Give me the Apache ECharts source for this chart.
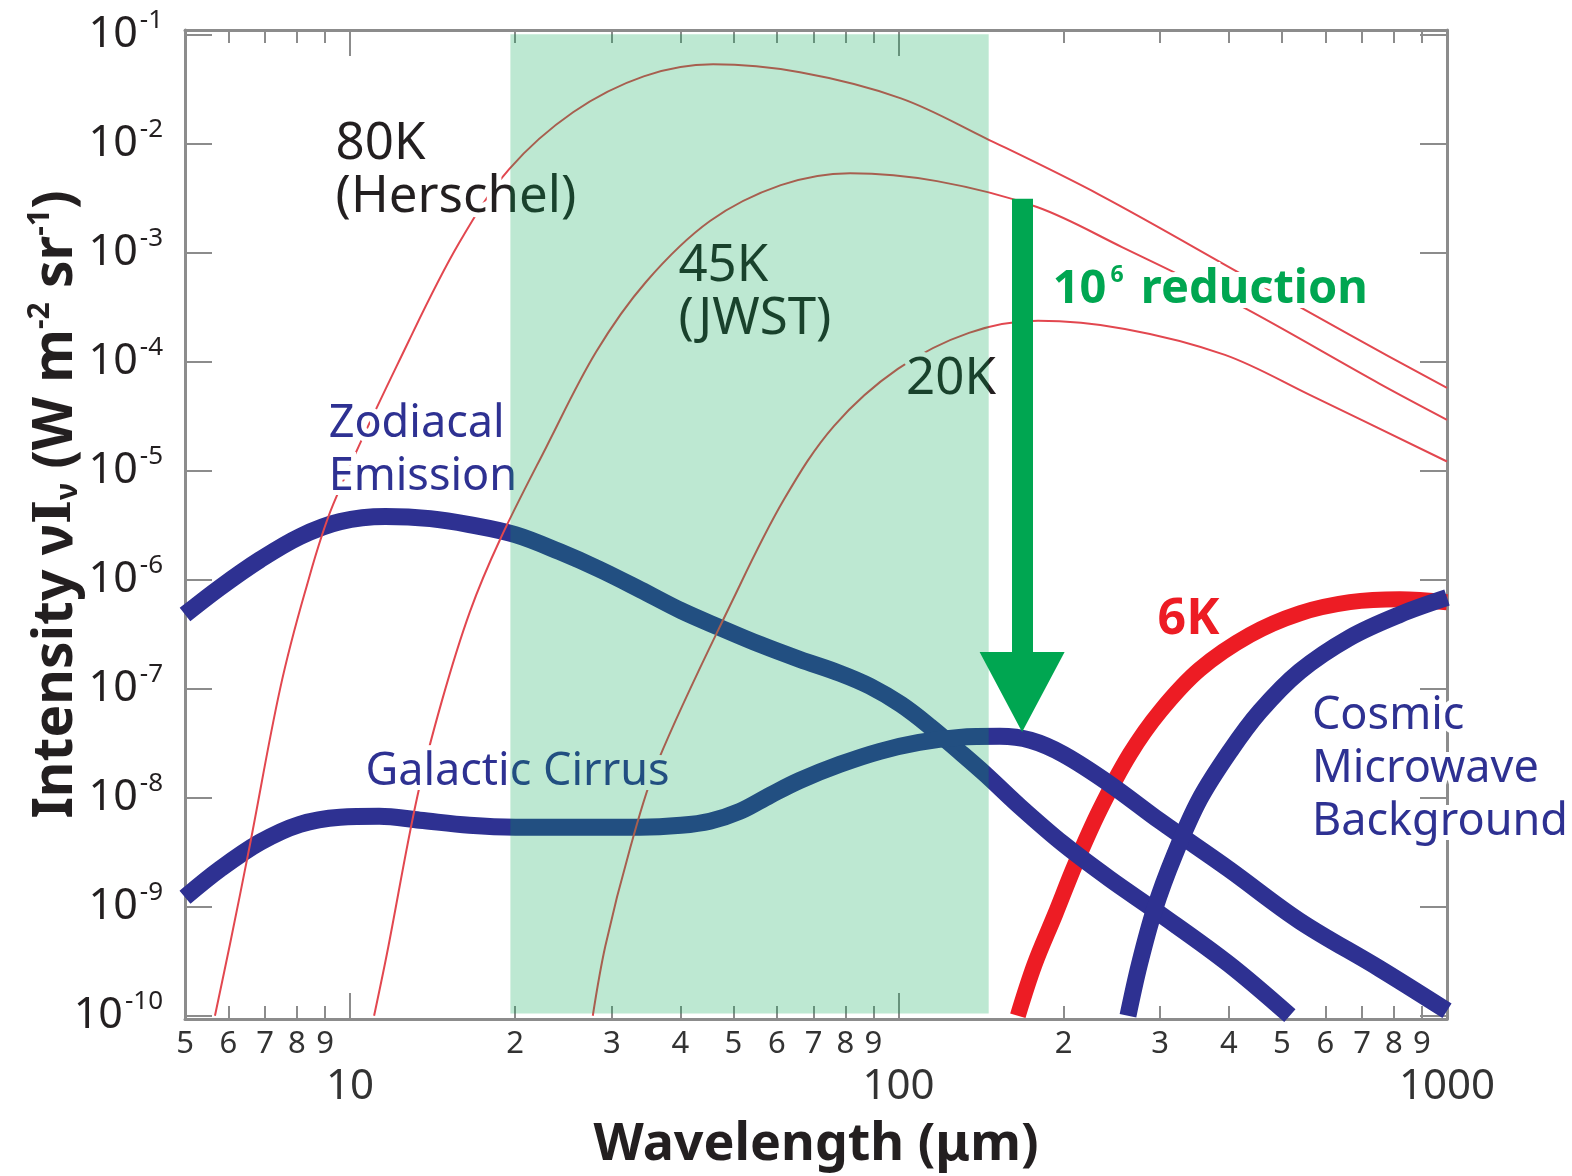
<!DOCTYPE html>
<html>
<head>
<meta charset="utf-8">
<script src="https://cdn.jsdelivr.net/npm/echarts@6/dist/echarts.min.js"></script>
<style>
  html, body { margin: 0; padding: 0; background: #fff; }
  #chart-container { width: 1572px; height: 1176px; }
</style>
</head>
<body>
<div id="chart-container"></div>
<script>
// wavelengths in micrometres, intensities in W m^-2 sr^-1
var zodiWave = [5, 5.79, 6.85, 8.10, 9.59, 11.6, 14.0, 16.5, 20.0, 24.1, 28.5, 33.8, 40.1, 47.2, 55.9, 66.1, 78.2, 88.7, 101, 114, 129, 144, 167, 200, 243, 300, 400, 517];
var zodiInt = [4.78e-7, 8.45e-7, 1.52e-6, 2.48e-6, 3.40e-6, 3.78e-6, 3.62e-6, 3.19e-6, 2.58e-6, 1.80e-6, 1.24e-6, 8.09e-7, 5.20e-7, 3.63e-7, 2.54e-7, 1.85e-7, 1.38e-7, 1.05e-7, 7.16e-8, 4.51e-8, 2.66e-8, 1.64e-8, 8.17e-9, 3.74e-9, 1.79e-9, 8.55e-10, 2.98e-10, 1.0e-10];

var cirrusWave = [5, 5.79, 6.85, 8.10, 9.59, 11.3, 13.4, 16.5, 20.0, 24.1, 28.5, 33.8, 40.1, 45.3, 51.4, 58.3, 66.1, 78.2, 92.5, 109, 129, 153, 174, 200, 243, 300, 400, 539, 755, 1000];
var cirrusInt = [1.22e-9, 2.21e-9, 3.90e-9, 5.70e-9, 6.62e-9, 6.76e-9, 6.21e-9, 5.58e-9, 5.36e-9, 5.36e-9, 5.36e-9, 5.36e-9, 5.58e-9, 6.08e-9, 7.50e-9, 1.05e-8, 1.44e-8, 2.02e-8, 2.66e-8, 3.21e-8, 3.57e-8, 3.65e-8, 3.36e-8, 2.49e-8, 1.33e-8, 6.08e-9, 2.21e-9, 7.38e-10, 2.69e-10, 1.11e-10];

var cmbWave = [262, 275, 293, 319, 354, 402, 456, 539, 665, 820, 1000];
var cmbInt = [1.0e-10, 2.98e-10, 9.51e-10, 3.03e-9, 9.66e-9, 2.66e-8, 6.18e-8, 1.44e-7, 2.94e-7, 4.78e-7, 6.84e-7];

var bb6Wave = [165, 177, 193, 210, 233, 264, 300, 354, 437, 539, 665, 820, 1000];
var bb6Int = [1.0e-10, 2.95e-10, 8.5e-10, 2.45e-9, 7.8e-9, 2.5e-8, 6.2e-8, 1.5e-7, 3.1e-7, 4.9e-7, 6.2e-7, 6.6e-7, 6.2e-7];

var bb80Wave = [5.67, 6.04, 6.57, 7.45, 8.28, 9.31, 12.8, 15.8, 19.5, 25.5, 34.3, 45.9, 66.1, 101, 144, 233, 425, 665, 1000];
var bb80Int = [1.0e-10, 4.55e-10, 3.74e-9, 9.84e-8, 7.76e-7, 4.86e-6, 1.55e-4, 1.22e-3, 5.81e-3, 1.93e-2, 4.12e-2, 5.31e-2, 4.49e-2, 2.59e-2, 1.12e-2, 3.36e-3, 6.21e-4, 1.75e-4, 5.73e-5];

var bb45Wave = [11.06, 11.68, 13.24, 14.71, 16.54, 18.76, 22.76, 28.08, 34.63, 45.31, 61.0, 81.6, 117.5, 178.8, 255.5, 414, 754, 1000];
var bb45Int = [1.0e-10, 3.76e-10, 9.89e-9, 7.80e-8, 5.09e-7, 2.32e-6, 1.62e-5, 1.22e-4, 5.36e-4, 1.94e-3, 4.14e-3, 5.33e-3, 4.51e-3, 2.61e-3, 1.12e-3, 3.37e-4, 6.24e-5, 2.92e-5];

var bb20Wave = [27.7, 29.2, 32.4, 36.4, 50.1, 61.8, 76.3, 99.7, 134.4, 179.6, 258.6, 393.7, 562, 1000];
var bb20Int = [1.0e-10, 4.36e-10, 3.44e-9, 2.15e-8, 6.84e-7, 5.41e-6, 2.57e-5, 8.55e-5, 1.83e-4, 2.36e-4, 1.99e-4, 1.15e-4, 4.94e-5, 1.21e-5];

// observing band and the cooling arrow
var bandRange = [19.6, 146];
var arrowWave = 168;
var arrowRange = [3.1e-3, 9.3e-8];

// tick values (micrometres / decades)
var minorTicks = [6, 7, 8, 9, 20, 30, 40, 50, 60, 70, 80, 90, 200, 300, 400, 500, 600, 700, 800, 900];
var minorLabels = [5, 6, 7, 8, 9, 20, 30, 40, 50, 60, 70, 80, 90, 200, 300, 400, 500, 600, 700, 800, 900];
var decadeTicks = [10, 100];
var decadeLabels = [10, 100, 1000];
var yDecades = [-10, -9, -8, -7, -6, -5, -4, -3, -2, -1];

// annotations: text, anchor (left edge, vertical middle), colour, font size
var notes = [
  { text: '80K\n(Herschel)', at: [9.39, 5.56e-3], color: '#231f20', size: 51 },
  { text: '45K\n(JWST)', at: [39.6, 4.25e-4], color: '#231f20', size: 51 },
  { text: '20K', at: [103, 6.79e-5], color: '#231f20', size: 51 },
  { text: 'Zodiacal\nEmission', at: [9.12, 1.51e-5], color: '#2e3192', size: 45 },
  { text: 'Galactic Cirrus', at: [10.64, 1.71e-8], color: '#2e3192', size: 45 },
  { text: '{k|6K}', at: [296, 4.31e-7], color: '#ed1c24', size: 45 },
  { text: 'Cosmic\nMicrowave\nBackground', at: [566, 1.82e-8], color: '#2e3192', size: 45 },
  { text: '{g|10}{gs|6}{g| reduction}', at: [190.6, 4.53e-4], color: '#00a651', size: 45 }
];

var xLo = 5, xHi = 1000;
var yLo = -10.03, yHi = -0.96;
var FONT = "'Noto Sans', 'Open Sans', sans-serif";
var AXIS_GRAY = '#8c8c8c';

function pairs(xs, ys) {
  return xs.map(function (x, i) { return [x, ys[i]]; });
}
function lg(v) { return Math.log10(v); }

function curve(name, xs, ys, color, width) {
  return {
    name: name,
    type: 'line',
    xAxisIndex: 0,
    yAxisIndex: 0,
    data: pairs(xs, ys),
    smooth: 0.35,
    symbol: 'none',
    silent: true,
    z: 2,
    lineStyle: { color: color, width: width, cap: 'butt', join: 'round' }
  };
}

// text annotations; the halo layer knocks the lines out behind the glyphs
function noteSeries(halo) {
  function c(col) { return halo ? '#fff' : col; }
  var border = halo ? { textBorderColor: '#fff', textBorderWidth: 10 } : {};
  return {
    name: halo ? 'note-halo' : 'notes',
    type: 'scatter',
    xAxisIndex: 0,
    yAxisIndex: 0,
    z: halo ? 3 : 4,
    silent: true,
    symbolSize: 1,
    itemStyle: { color: 'rgba(0,0,0,0)', opacity: 1 },
    data: notes.map(function (n) {
      return {
        value: n.at,
        label: Object.assign({
          formatter: n.text,
          color: c(n.color),
          fontSize: n.size,
          lineHeight: 53
        }, border)
      };
    }),
    label: Object.assign({
      show: true,
      position: 'right',
      distance: 0,
      opacity: 1,
      fontFamily: FONT,
      rich: {
        k: Object.assign({ fontFamily: FONT, fontSize: 50, fontWeight: 'bold', color: c('#ed1c24') }, border),
        g: Object.assign({ fontFamily: FONT, fontSize: 47, fontWeight: 'bold', color: c('#00a651') }, border),
        gs: Object.assign({ fontFamily: FONT, fontSize: 23, fontWeight: 'bold', color: c('#00a651'), padding: [0, 5, 28, 4] }, border)
      }
    }, border)
  };
}

function tickAxis(pos, ticks, len, showLine) {
  return {
    type: 'value',
    position: pos,
    min: lg(xLo),
    max: lg(xHi),
    axisLine: { show: showLine, onZero: false, lineStyle: { color: AXIS_GRAY, width: 3 } },
    axisTick: { show: true, inside: true, length: len, customValues: ticks.map(lg), lineStyle: { color: AXIS_GRAY, width: 2 } },
    axisLabel: { show: false },
    splitLine: { show: false }
  };
}

var chartDom = document.getElementById('chart-container');
var myChart = echarts.init(chartDom);

var bottomMinor = tickAxis('bottom', minorTicks, 13, true);
bottomMinor.axisLabel = {
  show: true,
  customValues: minorLabels.map(lg),
  margin: 10,
  fontFamily: FONT,
  fontSize: 31,
  color: '#333',
  formatter: function (v) {
    return String(Math.round(Math.pow(10, v))).charAt(0);
  }
};

var bottomDecade = tickAxis('bottom', decadeTicks, 26, false);
bottomDecade.axisLabel = {
  show: true,
  customValues: decadeLabels.map(lg),
  showMaxLabel: true,
  margin: 47,
  fontFamily: FONT,
  fontSize: 42,
  color: '#333',
  formatter: function (v) { return String(Math.round(Math.pow(10, v))); }
};
bottomDecade.name = 'Wavelength (\u03bcm)';
bottomDecade.nameLocation = 'middle';
bottomDecade.nameGap = 100;
bottomDecade.nameTextStyle = { fontFamily: FONT, fontSize: 52, fontWeight: 'bold', color: '#231f20' };

var yTick = {
  show: true, inside: true, length: 27, customValues: yDecades,
  lineStyle: { color: AXIS_GRAY, width: 2 }
};

var option = {
  backgroundColor: '#ffffff',
  animation: false,
  grid: { left: 185, right: 125, top: 30, bottom: 156, containLabel: false },
  xAxis: [
    { type: 'log', logBase: 10, min: xLo, max: xHi, show: false },
    bottomMinor,
    bottomDecade,
    tickAxis('top', minorTicks, 13, true),
    tickAxis('top', decadeTicks, 26, false)
  ],
  yAxis: [
    { type: 'log', logBase: 10, min: Math.pow(10, yLo), max: Math.pow(10, yHi), show: false },
    {
      type: 'value',
      position: 'left',
      min: yLo,
      max: yHi,
      axisLine: { show: true, onZero: false, lineStyle: { color: AXIS_GRAY, width: 3 } },
      axisTick: yTick,
      splitLine: { show: false },
      axisLabel: {
        customValues: yDecades,
        margin: 22,
        color: '#231f20',
        fontFamily: FONT,
        formatter: function (v) { return '{b|10}{s|' + Math.round(v) + '}'; },
        rich: {
          b: { fontFamily: FONT, fontSize: 43, color: '#231f20' },
          s: { fontFamily: FONT, fontSize: 26, color: '#231f20', padding: [0, 0, 28, 2] }
        }
      },
      name: '{t|Intensity \u03bd}{i|I}{u|\u03bd}{t| (W m}{p|-2}{t| sr}{p|-1}{t|)}',
      nameLocation: 'middle',
      nameRotate: 90,
      nameGap: 98,
      nameMoveOverlap: false,
      nameTextStyle: {
        padding: [0, 0, 0, 40],
        rich: {
          t: { fontFamily: FONT, fontSize: 55, fontWeight: 'bold', color: '#231f20' },
          i: { fontFamily: "'DejaVu Serif', serif", fontSize: 52, fontWeight: 'bold', color: '#231f20' },
          u: { fontFamily: FONT, fontSize: 30, fontWeight: 'bold', color: '#231f20', padding: [24, 0, 0, 0] },
          p: { fontFamily: FONT, fontSize: 30, fontWeight: 'bold', color: '#231f20', padding: [0, 0, 32, 0] }
        }
      }
    },
    {
      type: 'value',
      position: 'right',
      min: yLo,
      max: yHi,
      axisLine: { show: true, onZero: false, lineStyle: { color: AXIS_GRAY, width: 3 } },
      axisTick: yTick,
      axisLabel: { show: false },
      splitLine: { show: false }
    }
  ],
  series: [
    curve('6K', bb6Wave, bb6Int, '#ed1c24', 16),
    curve('Zodiacal Emission', zodiWave, zodiInt, '#2e3192', 17),
    curve('Galactic Cirrus', cirrusWave, cirrusInt, '#2e3192', 17),
    curve('Cosmic Microwave Background', cmbWave, cmbInt, '#2e3192', 17),
    curve('80K', bb80Wave, bb80Int, '#e2474f', 2),
    curve('45K', bb45Wave, bb45Int, '#e2474f', 2),
    curve('20K', bb20Wave, bb20Int, '#e2474f', 2),
    noteSeries(true),
    noteSeries(false),
    {
      name: 'band',
      type: 'line',
      xAxisIndex: 0,
      yAxisIndex: 0,
      data: [],
      silent: true,
      itemStyle: { color: '#00a651' },
      lineStyle: { color: '#00a651' },
      markArea: {
        z: 10,
        silent: true,
        itemStyle: { color: 'rgba(0,166,81,0.26)' },
        data: [[{ xAxis: bandRange[0], yAxis: 1e-1 }, { xAxis: bandRange[1], yAxis: 1.05e-10 }]]
      },
      markLine: {
        z: 12,
        silent: true,
        symbol: ['none', 'triangle'],
        label: { show: false },
        itemStyle: { color: '#00a651' },
        lineStyle: { color: '#00a651', width: 21, type: 'solid', cap: 'butt' },
        data: [[
          { coord: [arrowWave, arrowRange[0]], symbol: 'none' },
          { coord: [arrowWave, arrowRange[1]], symbol: 'triangle', symbolSize: [85, 80] }
        ]]
      }
    }
  ]
};

option && myChart.setOption(option);
</script>
</body>
</html>
